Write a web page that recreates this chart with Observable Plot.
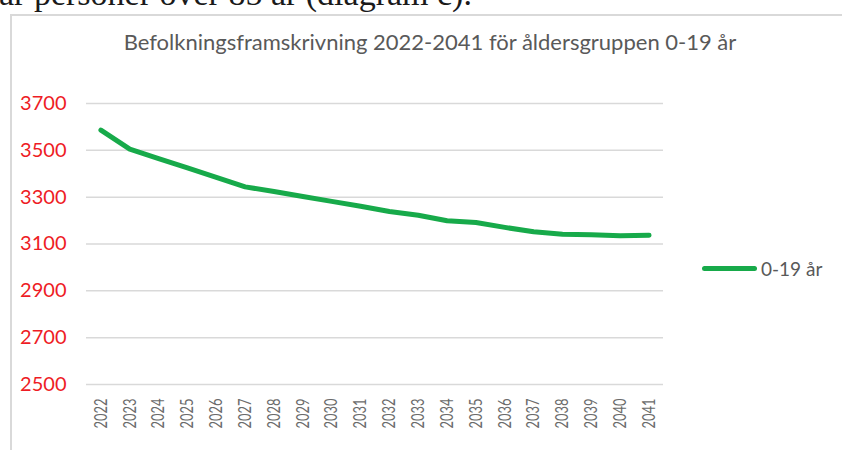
<!DOCTYPE html>
<html><head><meta charset="utf-8">
<script src="https://cdn.jsdelivr.net/npm/d3@7"></script>
<script src="https://cdn.jsdelivr.net/npm/@observablehq/plot@0.6"></script>
<style>
html,body{margin:0;padding:0;background:#fff;width:842px;height:450px;overflow:hidden;}
#page{position:relative;width:842px;height:450px;overflow:hidden;}
#intro{position:absolute;left:-1px;top:-23px;font-family:"Liberation Serif",serif;font-size:34px;line-height:33px;color:#1a1a1a;white-space:nowrap;}
#box{position:absolute;left:10px;top:14px;width:840px;height:440px;border-left:2px solid #d9d9d9;border-top:2px solid #d9d9d9;}
#chart{position:absolute;left:0;top:0;}
#title{position:absolute;left:0;top:31px;width:860px;text-align:center;font-family:Lato,sans-serif;font-size:22px;line-height:22px;color:#595959;white-space:nowrap;}
#legend{position:absolute;left:702px;top:256px;height:24px;display:flex;align-items:center;font-family:Lato,sans-serif;font-size:19px;color:#595959;white-space:nowrap;}
#legend .sw{width:55px;height:5px;border-radius:3px;margin-right:4px;}
</style></head>
<body><div id="page">
<div id="intro"></div>
<div id="box"></div>
<div id="chart"></div>
<div id="title"></div>
<div id="legend"><span class="sw"></span><span class="lt"></span></div>
</div>
<script>
const introText = "år personer över 85 år (diagram c).";
const titleText = "Befolkningsframskrivning 2022-2041 för åldersgruppen 0-19 år";
const seriesName = "0-19 år";
const seriesColor = "#17aa4a";
const years = [2022,2023,2024,2025,2026,2027,2028,2029,2030,2031,2032,2033,2034,2035,2036,2037,2038,2039,2040,2041];
const values = [3586,3505,3465,3425,3385,3344,3324,3303,3282,3261,3239,3223,3199,3192,3171,3152,3142,3139,3135,3137];
const yTicks = [2500,2700,2900,3100,3300,3500,3700];

document.getElementById("intro").textContent = introText;
document.getElementById("title").textContent = titleText;
document.querySelector("#legend .lt").textContent = seriesName;
document.querySelector("#legend .sw").style.background = seriesColor;

const data = years.map((y, i) => ({year: y, value: values[i]}));

const chart = Plot.plot({
  width: 842, height: 450,
  marginLeft: 86, marginRight: 179, marginTop: 103, marginBottom: 66,
  style: {fontFamily: "Lato, sans-serif", background: "transparent"},
  x: {type: "linear", domain: [years[0] - 0.5, years[years.length - 1] + 0.5], label: null},
  y: {domain: [2500, 3700], label: null},
  marks: [
    Plot.ruleY(yTicks, {stroke: "#d9d9d9", strokeWidth: 1.5}),
    Plot.axisY({ticks: yTicks, tickSize: 0, tickPadding: 20, fontSize: 20, fill: "#ee1c25", tickFormat: d => String(d)}),
    Plot.axisX({ticks: years, tickRotate: -90, tickSize: 0, tickPadding: 14, fontSize: 18, fill: "#6b6b6b", tickFormat: d => String(d)}),
    Plot.line(data, {x: "year", y: "value", stroke: seriesColor, strokeWidth: 5, strokeLinecap: "round", strokeLinejoin: "round"})
  ]
});
d3.select(chart).selectAll('g[aria-label="x-axis tick label"] text')
  .attr("textLength", 30).attr("lengthAdjust", "spacingAndGlyphs");
document.getElementById("chart").appendChild(chart);
</script>
</body></html>
